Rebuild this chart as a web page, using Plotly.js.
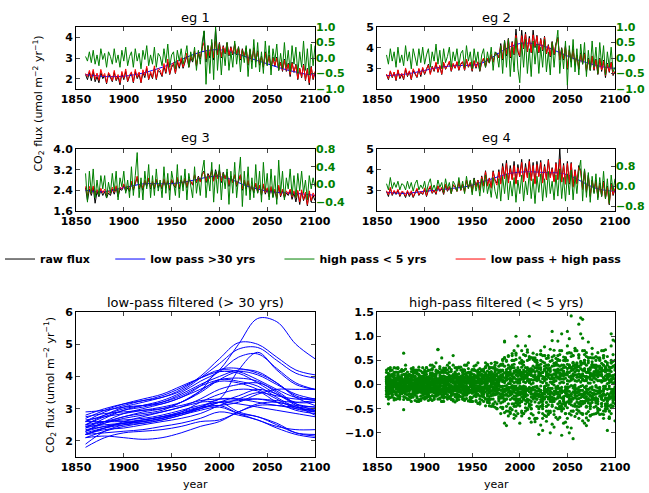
<!DOCTYPE html>
<html>
<head>
<meta charset="utf-8">
<script src="https://cdn.plot.ly/plotly-3.0.1.min.js"></script>
<style>
  html, body { margin: 0; padding: 0; background: #fff; }
  #chart { width: 649px; height: 493px; }
</style>
</head>
<body>
<div id="chart"></div>
<script>
// annual series are sampled every 2 years, the smooth ones every 10
var years = [];
for (var yr = 1860; yr <= 2100; yr += 2) years.push(yr);
var lowYears = [];
for (var yr2 = 1860; yr2 <= 2100; yr2 += 10) lowYears.push(yr2);
var curveYears = [1860,1880,1900,1920,1940,1960,1980,2000,2020,2040,2060,2080,2100];
var yearTicks = [1850,1900,1950,2000,2050,2100];

// ---- eg 1 ----
var eg1Raw = [
 2.2,1.95,2.3,1.9,2.35,1.85,2.1,1.8,2.3,2.0,
 2.15,1.75,2.25,2.05,1.85,2.3,1.9,2.1,1.7,2.25,
 1.95,2.35,1.85,2.1,2.25,1.8,2.35,2.0,2.2,1.8,
 2.3,2.05,2.5,1.95,2.25,2.0,2.5,1.95,2.4,2.3,
 2.1,2.6,2.25,2.8,2.2,2.55,2.7,2.25,2.8,2.5,
 2.9,2.5,2.75,3.1,2.55,3.0,2.8,3.25,2.6,3.2,
 2.95,3.45,4.3,2.8,3.6,3.0,3.75,2.9,4.4,3.2,
 3.75,3.0,3.6,3.2,3.75,3.1,3.55,3.15,3.7,3.15,
 3.55,2.9,3.45,3.05,3.5,2.65,3.4,2.8,3.5,2.8,
 3.35,2.65,3.1,2.55,3.3,2.65,3.15,2.45,3.05,2.6,
 3.05,2.4,2.8,2.35,2.95,2.35,2.75,2.1,2.8,2.3,
 2.7,1.95,2.5,2.05,2.7,1.9,2.5,1.7,2.6,1.95,
 2.3];
var eg1Low = [2.2,2.15,2.1,2.1,2.12,2.18,2.27,2.4,2.55,2.72,2.92,3.12,3.28,3.38,3.4,3.32,3.18,3.02,2.87,2.72,2.57,2.43,2.32,2.22,2.17];
var eg1High = [
 .05,-.1,.2,-.15,.25,-.2,.1,-.25,.3,-.05,
 .15,-.3,.2,.05,-.2,.3,-.15,.1,-.3,.25,
 -.1,.35,-.25,.05,.2,-.3,.3,-.1,.15,-.35,
 .25,-.05,.4,-.25,.1,-.2,.35,-.3,.15,.05,
 -.25,.3,-.15,.45,-.3,.1,.2,-.35,.25,-.1,
 .3,-.2,.05,.4,-.3,.2,-.1,.35,-.4,.25,
 -.2,.5,.88,-.85,.4,-.5,.6,-.7,1.0,-.4,
 .45,-.55,.3,-.25,.5,-.4,.2,-.3,.55,-.2,
 .35,-.45,.25,-.15,.4,-.6,.3,-.35,.6,-.3,
 .5,-.45,.2,-.5,.55,-.25,.4,-.55,.3,-.1,
 .45,-.4,.15,-.35,.5,-.3,.25,-.45,.4,-.2,
 .35,-.5,.2,-.3,.55,-.4,.3,-.55,.45,-.25,
 .4];
var eg1Sum = [
 2.25,2.1,2.4,2.05,2.45,1.97,2.27,1.92,2.45,2.1,
 2.25,1.8,2.3,2.15,1.9,2.4,1.95,2.2,1.8,2.35,
 2.02,2.47,1.88,2.18,2.33,1.84,2.45,2.06,2.32,1.82,
 2.43,2.15,2.6,1.97,2.34,2.06,2.62,2.0,2.5,2.42,
 2.15,2.73,2.31,2.95,2.23,2.65,2.78,2.27,2.9,2.59,
 3.02,2.56,2.85,3.24,2.58,3.12,2.86,3.35,2.64,3.33,
 3.0,3.5,3.75,2.95,3.55,3.1,3.7,3.0,3.8,3.15,
 3.7,3.05,3.55,3.25,3.7,3.15,3.5,3.2,3.65,3.2,
 3.5,2.95,3.4,3.1,3.45,2.7,3.35,2.85,3.45,2.85,
 3.3,2.7,3.05,2.6,3.25,2.7,3.1,2.5,3.0,2.65,
 3.0,2.45,2.78,2.4,2.9,2.4,2.7,2.2,2.75,2.35,
 2.65,2.0,2.5,2.1,2.65,1.95,2.45,1.8,2.55,2.0,
 2.35];

// ---- eg 2 ----
var eg2Raw = [
 2.7,2.45,2.85,2.55,2.8,2.4,2.9,2.5,2.7,2.45,
 2.95,2.6,2.85,2.45,2.9,2.75,2.55,2.95,2.6,3.0,
 2.7,2.95,3.2,2.75,3.1,2.85,3.25,2.8,3.1,2.7,
 3.25,2.95,3.1,3.3,2.85,3.2,3.0,3.3,2.9,3.2,
 3.3,2.9,3.4,3.05,3.25,2.85,3.35,3.0,3.3,2.85,
 3.3,3.45,3.05,3.45,3.25,3.65,3.3,3.7,3.75,3.5,
 4.2,3.4,4.35,3.6,4.45,3.5,4.3,3.65,4.9,3.8,
 3.55,4.85,3.95,4.75,3.8,4.55,3.75,4.85,4.0,4.6,
 3.75,4.45,3.85,4.55,3.7,4.15,3.55,4.3,3.65,4.2,
 4.5,3.4,4.0,3.4,4.1,2.95,3.9,3.3,3.95,3.15,
 3.65,2.95,3.75,3.2,3.75,2.85,3.5,2.9,3.6,2.9,
 3.45,2.7,3.5,2.85,3.4,2.55,3.25,2.8,3.3,2.65,
 2.85];
var eg2Low = [2.65,2.68,2.72,2.8,2.9,3.0,3.08,3.12,3.14,3.15,3.25,3.5,3.8,4.05,4.2,4.22,4.15,4.0,3.8,3.6,3.42,3.28,3.15,3.05,3.0];
var eg2High = [
 .1,-.2,.3,-.1,.2,-.3,.35,-.15,.1,-.25,
 .4,-.1,.2,-.35,.3,.05,-.25,.3,-.15,.35,
 -.2,.1,.3,-.3,.2,-.1,.45,-.2,.25,-.35,
 .3,-.15,.05,.35,-.3,.2,-.1,.3,-.25,.15,
 .25,-.3,.4,-.1,.2,-.35,.3,-.15,.2,-.4,
 .1,.3,-.3,.2,-.15,.35,-.4,.2,.1,-.3,
 .4,-.5,.55,-.3,.6,-.6,.35,-.45,.65,-.35,
 -.8,.5,-.3,.6,-.5,.3,-.6,.55,-.2,.45,
 -.5,.35,-.3,.6,-.45,.2,-.55,.5,-.3,.4,
 .9,-.5,.3,-.35,.55,-.88,.4,-.3,.6,-.45,
 .3,-.55,.45,-.2,.5,-.6,.25,-.4,.55,-.3,
 .35,-.5,.5,-.25,.4,-.55,.2,-.3,.35,-.45,
 -.3];
var eg2Sum = [
 2.72,2.5,2.88,2.58,2.82,2.44,2.93,2.56,2.76,2.5,
 3.02,2.65,2.88,2.48,2.98,2.78,2.58,3.0,2.68,3.05,
 2.75,2.98,3.15,2.7,3.08,2.9,3.3,2.82,3.15,2.72,
 3.3,2.98,3.12,3.35,2.88,3.25,3.02,3.33,2.93,3.23,
 3.33,2.92,3.45,3.08,3.3,2.9,3.38,3.06,3.32,2.9,
 3.32,3.5,3.1,3.5,3.27,3.68,3.3,3.72,3.68,3.52,
 4.1,3.45,4.25,3.68,4.4,3.55,4.25,3.7,4.6,3.85,
 3.6,4.58,3.98,4.65,3.82,4.45,3.77,4.62,4.07,4.55,
 3.78,4.4,3.9,4.5,3.72,4.1,3.6,4.25,3.7,4.15,
 4.45,3.42,3.95,3.45,4.05,3.0,3.85,3.35,3.9,3.2,
 3.62,3.0,3.7,3.24,3.7,2.9,3.45,2.95,3.6,2.95,
 3.4,2.75,3.45,2.92,3.35,2.65,3.2,2.85,3.28,2.7,
 2.85];

// ---- eg 3 ----
var eg3Raw = [
 2.5,2.0,2.45,2.2,2.5,1.9,2.35,2.15,2.4,2.2,
 2.35,2.1,2.3,2.2,2.45,2.25,2.5,2.15,2.45,2.4,
 2.6,2.35,2.5,2.35,2.7,2.4,2.65,2.9,2.45,2.65,
 2.4,2.75,2.55,2.85,2.45,2.7,2.45,2.8,2.5,2.65,
 2.45,2.8,2.5,2.75,2.4,2.8,2.6,2.5,2.85,2.45,
 2.8,2.55,2.85,2.5,2.8,2.75,2.6,3.0,2.7,2.95,
 2.75,3.05,3.15,2.7,3.05,2.9,3.2,2.8,3.2,2.9,
 3.2,2.7,3.1,2.85,3.1,2.55,2.95,2.7,3.0,2.55,
 2.75,3.0,2.4,2.75,2.45,2.75,2.35,2.55,2.3,2.65,
 2.3,2.6,2.2,2.6,2.25,2.45,2.15,2.5,2.15,2.4,
 2.05,2.55,2.15,2.4,2.1,2.3,2.2,2.4,2.05,2.3,
 1.95,2.35,1.85,2.35,2.0,2.25,1.8,2.3,1.95,2.2,
 2.0];
var eg3Low = [2.4,2.36,2.35,2.42,2.5,2.58,2.65,2.66,2.65,2.66,2.7,2.77,2.85,2.93,2.93,2.85,2.7,2.55,2.45,2.37,2.32,2.3,2.28,2.25,2.2];
var eg3High = [
 .25,-.4,.3,-.2,.35,-.3,.1,-.25,.2,-.1,
 .2,-.3,.05,-.2,.25,-.15,.3,-.35,.15,-.05,
 .3,-.2,.1,-.3,.4,-.25,.2,.72,-.3,.15,
 -.35,.3,-.1,.45,-.3,.2,-.25,.35,-.15,.1,
 -.3,.4,-.2,.25,-.35,.3,.05,-.25,.45,-.3,
 .2,-.15,.35,-.35,.25,0,-.3,.4,-.2,.15,
 -.25,.3,.55,-.3,.2,-.15,.5,-.4,.3,-.2,
 .45,-.35,.25,-.1,.35,-.45,.3,-.2,.5,-.3,
 .2,.62,-.5,.3,-.25,.4,-.35,.15,-.3,.45,
 -.2,.3,-.4,.5,-.15,.25,-.35,.35,-.3,.2,
 -.45,.55,-.2,.3,-.35,.15,-.1,.35,-.25,.2,
 -.3,.25,-.15,.3,-.2,.1,-.35,.2,-.1,.15,
 -.05];
var eg3Sum = [
 2.55,2.2,2.55,2.28,2.57,2.22,2.43,2.25,2.48,2.3,
 2.45,2.2,2.38,2.28,2.52,2.33,2.58,2.25,2.52,2.45,
 2.65,2.42,2.57,2.42,2.75,2.45,2.7,2.95,2.5,2.72,
 2.48,2.8,2.6,2.88,2.5,2.75,2.52,2.83,2.57,2.7,
 2.5,2.85,2.55,2.78,2.48,2.82,2.67,2.55,2.9,2.52,
 2.8,2.62,2.87,2.55,2.85,2.74,2.62,3.0,2.72,2.9,
 2.72,3.0,3.1,2.75,3.0,2.85,3.15,2.75,3.08,2.85,
 3.15,2.75,3.05,2.85,3.05,2.62,2.95,2.7,3.0,2.6,
 2.78,3.0,2.45,2.8,2.5,2.78,2.4,2.6,2.38,2.68,
 2.35,2.6,2.25,2.65,2.32,2.5,2.2,2.55,2.22,2.45,
 2.1,2.6,2.2,2.45,2.15,2.38,2.25,2.45,2.15,2.38,
 2.1,2.4,1.95,2.42,2.05,2.33,1.85,2.38,2.0,2.3,
 2.15];

// ---- eg 4 ----
var eg4Raw = [
 2.95,2.7,3.1,2.75,2.95,2.8,3.0,2.7,2.9,2.85,
 2.65,2.95,2.7,2.9,2.65,2.9,3.05,2.75,2.9,2.8,
 3.05,2.7,3.0,3.15,2.85,3.0,2.8,3.2,2.95,3.1,
 2.8,3.25,2.95,3.15,2.85,3.25,3.15,2.95,3.4,3.0,
 3.3,2.95,3.5,3.1,3.45,2.95,3.6,3.2,3.5,3.05,
 3.7,3.25,3.95,3.25,3.6,3.15,3.95,3.5,3.35,4.0,
 3.35,4.3,3.6,4.45,3.4,4.2,3.55,4.4,3.35,4.25,
 3.7,4.5,3.45,4.3,3.65,4.5,3.5,4.35,3.35,4.4,
 3.7,4.45,3.4,4.25,3.55,4.5,3.65,4.1,3.45,4.35,
 3.55,5.0,3.4,4.3,3.3,4.4,3.3,4.35,3.2,4.0,
 3.35,4.2,3.95,3.05,4.0,2.9,3.75,2.7,3.5,2.9,
 3.5,2.65,3.35,2.7,3.45,2.6,3.2,2.3,3.35,2.75,
 3.05];
var eg4Low = [2.9,2.87,2.85,2.9,2.95,3.0,3.05,3.1,3.15,3.25,3.4,3.55,3.7,3.82,3.88,3.9,3.88,3.85,3.85,3.75,3.55,3.3,3.1,3.0,2.95];
var eg4High = [
 .1,-.15,.35,-.1,.15,-.05,.2,-.15,.1,.05,
 -.15,.2,-.1,.15,-.2,.1,.25,-.15,.05,-.1,
 .2,-.25,.1,.3,-.15,.05,-.2,.25,-.05,.15,
 -.25,.3,-.1,.15,-.3,.2,.05,-.2,.35,-.15,
 .2,-.3,.4,-.1,.25,-.35,.3,-.2,.15,-.4,
 .3,-.25,.45,-.3,.1,-.45,.35,-.2,-.5,.3,
 -.6,.4,-.3,.5,-.55,.2,-.4,.35,-.65,.25,
 -.3,.45,-.6,.2,-.35,.55,-.5,.3,-.7,.4,
 -.25,.5,-.6,.3,-.45,.6,-.3,.2,-.55,.45,
 -.4,.7,-.5,.35,-.6,.5,-.35,.65,-.55,.4,
 -.3,.6,1.05,-.6,.7,-.45,.55,-.65,.4,-.3,
 .5,-.55,.35,-.4,.6,-.5,.3,-.7,.45,-.2,
 .3];
var eg4Sum = [
 2.98,2.78,3.15,2.8,3.0,2.85,3.05,2.75,2.95,2.92,
 2.72,3.0,2.78,2.98,2.7,2.95,3.1,2.78,2.95,2.82,
 3.12,2.75,3.05,3.22,2.88,3.02,2.85,3.23,2.98,3.15,
 2.85,3.3,3.0,3.2,2.85,3.28,3.17,2.95,3.45,3.0,
 3.3,2.9,3.5,3.12,3.42,2.9,3.55,3.15,3.48,3.0,
 3.65,3.2,3.9,3.2,3.58,3.1,3.9,3.45,3.25,3.9,
 3.3,4.15,3.55,4.3,3.35,4.05,3.5,4.2,3.3,4.1,
 3.65,4.35,3.4,4.1,3.6,4.4,3.45,4.2,3.3,4.25,
 3.65,4.35,3.35,4.15,3.5,4.45,3.6,4.05,3.4,4.3,
 3.5,4.5,3.4,4.2,3.3,4.3,3.35,4.3,3.15,3.95,
 3.3,4.1,3.9,3.05,3.95,2.95,3.7,2.75,3.45,2.95,
 3.45,2.7,3.3,2.75,3.4,2.65,3.15,2.35,3.3,2.8,
 3.1];

// ---- ensemble of low-pass curves (values at curveYears) ----
var ensembleLow = [
 [2.3,2.6,2.85,3.0,3.15,3.35,3.7,4.2,5.0,5.8,5.7,5.0,4.55],
 [2.6,2.9,3.1,3.25,3.35,3.6,4.0,4.55,5.05,5.0,4.6,4.2,4.05],
 [2.5,2.8,3.05,3.2,3.35,3.55,3.95,4.4,4.85,4.9,4.5,4.1,3.95],
 [2.2,2.4,2.6,2.75,2.9,3.05,3.2,3.3,4.2,4.75,4.2,3.75,3.6],
 [2.4,2.7,2.95,3.1,3.25,3.5,3.85,4.15,4.6,4.7,4.25,3.8,3.6],
 [2.8,3.0,3.15,3.25,3.4,3.65,3.95,4.2,4.15,3.9,3.6,3.35,3.3],
 [2.7,2.95,3.15,3.3,3.45,3.7,3.95,4.15,4.1,3.8,3.45,3.2,3.2],
 [2.5,2.75,2.95,3.05,3.2,3.45,3.75,4.0,4.2,4.15,3.8,3.4,3.25],
 [2.6,2.8,3.0,3.1,3.2,3.4,3.7,3.9,3.95,3.85,3.5,3.15,3.05],
 [2.3,2.55,2.75,2.85,2.95,3.2,3.55,3.9,3.85,3.7,3.35,3.05,2.95],
 [2.9,2.95,3.05,3.1,3.15,3.35,3.6,3.85,3.8,3.6,3.3,3.0,2.9],
 [2.4,2.55,2.7,2.8,2.9,3.05,3.3,3.6,3.75,3.8,3.55,3.15,2.95],
 [2.2,2.4,2.55,2.65,2.75,2.9,3.2,3.45,3.6,3.55,3.2,2.95,2.85],
 [2.1,2.3,2.45,2.55,2.65,2.8,3.0,3.2,3.4,3.6,3.45,3.1,2.8],
 [2.5,2.6,2.65,2.7,2.8,2.95,3.1,3.2,3.15,3.05,2.95,2.85,2.75],
 [2.3,2.45,2.55,2.6,2.7,2.85,3.05,3.3,3.3,3.2,3.1,3.05,3.0],
 [1.9,2.3,2.5,2.6,2.7,2.85,3.0,3.2,3.25,3.3,3.25,3.2,3.25],
 [2.2,2.35,2.4,2.5,2.6,2.7,2.85,3.1,3.3,3.5,3.4,3.3,3.3],
 [2.6,2.6,2.6,2.65,2.75,2.85,3.0,3.1,2.85,2.65,2.45,2.35,2.35],
 [2.45,2.5,2.55,2.6,2.7,2.85,3.05,3.2,2.9,2.75,2.55,2.25,2.15],
 [2.2,2.25,2.3,2.35,2.45,2.55,2.7,2.9,2.8,2.65,2.4,2.2,2.1],
 [2.1,2.15,2.1,2.05,2.1,2.25,2.45,2.6,2.9,3.1,3.1,3.0,2.95],
 [1.8,2.1,2.25,2.3,2.35,2.45,2.6,2.65,2.9,3.15,3.2,3.05,2.9],
 [2.75,2.85,2.9,2.95,3.0,3.1,3.25,3.3,3.3,3.3,3.2,3.1,3.05],
 [2.35,2.45,2.55,2.65,2.75,2.9,3.05,3.1,3.2,3.45,3.6,3.6,3.6],
 [2.25,2.4,2.5,2.55,2.65,2.8,2.95,3.05,2.85,2.75,2.5,2.25,2.2],
 [2.65,2.75,2.85,2.95,3.05,3.2,3.5,3.9,4.15,4.05,3.75,3.45,3.3],
 [2.45,2.6,2.75,2.9,3.0,3.2,3.55,4.2,4.25,4.1,3.8,3.35,3.1]
];

// ---- further high-pass members, in hundredths ----
var hpA = [12,-25,8,30,-15,-4,22,-30,5,65, -20,10,-8,27,-12,3,-28,15,9,-18, 25,-6,-22,14,31,-17,4,-9,20,-26, 7,16,-21,35,-3,-14,24,-33,11,2, -19,28,6,-11,17,-27,38,-8,13,-24, 21,-35,9,42,-18,5,-41,30,-12,26, -47,18,55,-22,-8,36,-52,14,61,-30, 24,-58,40,-15,67,-44,10,-63,35,-20, -103,-31,-70,45,18,-55,73,-26,8,-48, 60,-38,22,-80,49,-14,95,142,31,-66, 43,-21,-59,70,-35,12,-74,56,-29,38, -45,66,-18,27,-62,48,-10,-55,80,-33, 20];
var hpB = [-8,20,-27,4,15,-19,33,-11,-2,-52, 16,-30,21,-6,-17,29,-9,12,-24,6, -14,35,-3,-25,18,-10,27,-20,9,14, -28,11,23,-16,5,-34,19,8,-13,30, 10,-22,-5,33,-26,15,-7,28,-39,19, -15,27,-44,16,33,-23,8,-36,45,-9, 30,-25,-12,48,-40,22,-5,50,-33,-60, -15,44,-27,80,-36,5,-50,28,-72,46, -20,63,-41,12,-66,55,-19,38,-88,26, 15,-45,70,-28,-60,42,-100,34,60,-18, -52,29,138,-40,17,-69,45,-22,63,-47, 28,-35,55,-61,14,36,-50,22,-28,92, -40];
var hpC = [30,-12,17,-22,2,26,-29,9,-16,21, -5,14,-31,19,25,-8,-18,36,-4,-22, 11,-18,29,-7,-23,21,-14,73,-28,5, 18,-26,4,-9,27,-20,-2,17,-31,12, -6,22,-29,14,5,-18,31,-25,24,-3, -32,15,24,-37,20,-13,34,-47,22,9, -28,52,-34,19,-65,31,-15,42,-45,80, -38,22,-60,35,-10,58,-42,17,-77,50, 33,-12,47,-64,26,-30,-100,-45,-20,54, -72,38,-16,57,-40,110,-25,-63,44,-8, 36,-55,20,135,62,-85,28,-15,47,-61, 19,-40,52,-25,-70,33,58,-44,12,-24, 35];
var hpD = [-20,5,28,-13,19,-6,-24,14,31,-17, 9,-21,4,33,-26,17,-1,-15,28,-9, -30,8,16,-12,3,37,-24,10,-17,29, 2,-19,30,-6,-23,60,-36,21,7,-15, 26,-9,13,-34,21,-2,-16,40,-21,11, 18,-7,-29,28,-44,25,12,-21,-7,38, -20,43,-58,27,-10,-48,64,-24,-38,29, 55,-20,11,-48,72,-32,25,-9,48,-70, 18,-84,-95,-7,54,-42,-15,91,-35,27, -50,20,40,-33,-78,65,-30,13,-55,75, -24,125,-40,96,-18,-47,32,-64,18,55, -35,18,-52,70,-22,-8,45,-67,35,-15, 50];
var hpE = [15,-30,9,-3,23,-21,11,27,-19,-7, 32,-14,-25,8,19,-33,22,-4,13,-28, 4,21,-11,40,-33,12,-6,-22,33,55, -17,34,-10,26,-30,6,15,-23,-5,36, -30,12,24,-18,-5,31,-23,7,18,-37, 11,32,-15,-23,36,-30,5,26,-50,16, 42,-36,24,-55,34,12,-28,70,-18,-42, 30,-65,47,-22,-30,52,-78,38,14,-45, -58,42,-25,78,-10,-62,34,110,71,-16, 32,-68,-105,12,-44,80,-22,-90,38,-5, 70,-38,15,-62,44,-25,88,-50,-10,36, -60,24,38,-45,60,-28,15,-70,50,-12, -25];
var hpF = [-25,16,-4,21,-32,8,18,-14,27,-5, -12,26,-19,-2,35,-22,10,-31,17,24, -26,15,-33,6,24,-3,-19,28,-12,-21, 34,-8,-27,19,9,-31,26,-4,-22,17, 14,-33,19,3,-27,22,-12,-20,30,-8, -24,18,37,-12,-33,44,-18,9,30,-28, 12,-47,38,-12,58,-31,20,-62,26,-8, -44,36,-12,60,-52,21,-35,65,-25,15, 40,-22,-45,60,-37,20,-58,12,44,-68, 25,50,105,28,-12,-48,66,-35,-112,-40, -15,62,-44,30,-80,25,55,-32,-62,40, 58,-30,-15,44,-55,72,-40,30,-48,62, 90];
var hpG = [8,23,-18,-26,12,34,-9,-20,6,29, -27,7,18,-23,3,24,-35,20,-8,11, 19,-28,6,23,-15,-30,13,-5,37,-16, -8,25,-30,11,-19,40,-12,-27,22,-2, 31,-17,-8,24,-31,9,16,-33,6,25, -5,-26,20,14,-38,27,-22,46,-14,-34, 27,-15,90,31,18,-57,40,-30,52,-22, -32,70,-16,-55,30,100,56,-26,-18,62, -38,24,60,-30,-76,40,-14,57,-62,30, -28,62,-45,18,52,-70,36,-20,-44,70, 30,-70,48,-12,-38,66,-56,20,42,-30, -20,55,-62,18,40,-50,-95,-8,-60,38, -75];
var hpH = [-15,33,-7,17,-28,3,25,-16,13,-31, 22,-5,12,-27,30,-19,6,21,-33,15, -7,27,-19,1,33,-24,22,-30,8,25, -21,6,15,-28,31,-11,-20,10,36,-25, -12,30,-22,5,26,-35,20,-14,-20,33, 28,-18,6,-30,24,12,-45,20,31,-25, -38,28,-80,-45,25,-22,50,-10,-55,35, 20,-35,62,-40,18,-70,28,52,-36,12, -46,70,-20,32,-55,15,48,-82,30,-8, 52,-26,-55,40,22,-36,-60,58,-15,35, -60,22,40,-75,30,58,-20,-45,75,-20, 40,-58,20,-30,70,-22,-45,30,105,48, -30];
var hpI = [3,-8,12,0,-5,9,-14,6,-2,10, -11,4,7,-3,15,-9,1,-6,11,-13, 8,-2,-10,5,13,-7,2,-15,9,4, -6,11,-1,-12,7,3,-9,14,-4,6, 10,-5,2,-13,8,-1,12,-7,-3,9, -14,6,11,-2,-8,16,-5,3,-12,7, 18,-10,4,-20,12,-6,22,-15,5,-9, -17,25,-8,13,-22,6,19,-28,10,-4, 24,-12,-30,15,3,-19,27,-8,-21,16, -26,11,32,-14,-5,20,-33,9,17,-11, 7,-29,19,-2,28,-18,-10,31,-24,5, -13,22,-6,-27,14,30,-19,4,-25,12, -8];
var hpJ = [-4,9,-1,-11,6,2,13,-7,-3,8, 5,-12,10,1,-7,-4,12,-10,3,-1, -9,14,-5,3,-2,-12,8,6,-14,11, 12,-3,-8,9,-15,5,1,-10,13,-6, -2,7,-12,11,4,-9,-5,15,-11,2, 9,-16,3,8,-10,-3,14,-13,6,-1, -12,16,-22,9,2,-18,11,-3,20,-14, 8,-16,21,-5,-12,27,-20,3,15,-30, -9,31,-18,-4,22,-26,12,-35,6,19, 13,-21,5,26,-38,8,-14,29,-3,-22, 20,-6,-27,12,33,-9,-17,24,-31,14, -5,29,-15,8,-33,18,2,-21,27,-10, 12];
var hpK = [7,-1,-9,4,-13,11,0,-5,8,-10, -3,13,-6,-9,2,10,-14,5,-1,9, 14,-4,3,-9,-1,8,-11,2,-6,13, -10,0,9,-4,12,-13,6,-2,-8,5, 4,-11,8,-6,-1,13,-9,3,10,-14, -7,12,-2,-11,19,-5,-9,11,-17,4, 9,-4,-15,23,-11,7,-19,4,-8,17, -21,11,-3,-18,24,-9,1,-25,20,-7, 10,-25,17,-12,-2,33,-15,5,-28,21, -8,24,-17,-30,13,1,35,-19,-7,26, -17,9,33,-22,-6,17,-38,11,22,-12, 25,-18,-9,21,-4,-30,12,36,-16,3, -18];
var hpL = [-12,3,5,-7,10,-3,-11,16,-8,1, 7,-2,-13,12,-5,6,-8,-2,14,-6, 2,-13,9,12,-8,1,-17,11,-4,-9, 5,15,-7,-2,-11,8,13,-6,1,-12, -9,3,14,-7,-12,6,2,-10,15,-4, 13,-9,-6,15,-3,-14,8,-1,10,-18, -5,21,-10,-2,-16,13,-8,24,-11,3, 12,-5,-24,17,-9,-15,33,-11,-28,8, -22,6,12,-20,34,-7,-26,18,-1,-13, 29,-14,-6,21,-23,-9,16,-2,31,-27, -9,37,-12,-25,8,-34,15,3,-18,27, 11,-7,32,-14,-19,9,-28,17,6,-29, 20];
var hpM = [1,14,-6,9,-3,-15,4,11,-10,5, -9,8,2,-5,-10,15,-3,9,-16,1, -4,6,-15,-2,10,-6,15,-8,3,-11, 9,-12,6,14,-2,-7,-4,12,-15,4, -5,16,-3,-8,9,-6,-14,4,-9,12, 2,-5,17,-19,7,3,-12,16,-4,-11, 14,-20,7,11,-24,2,17,-12,-3,23, -9,17,-30,4,21,-6,-13,18,-5,29, 26,-16,4,-27,11,22,-8,-18,39,-5, -16,3,-28,11,36,-20,7,-42,12,-1, 30,-15,-4,44,-27,8,-29,-7,36,-19, -27,8,-13,34,-9,-42,21,-3,18,-37, 6];
var hpN = [10,-6,2,-16,7,13,-2,-9,3,-4, 13,-7,-1,11,-14,-5,8,2,-11,17, -12,2,11,-6,-14,17,-3,6,11,-2, -3,9,-14,1,17,-5,-12,4,9,-16, 15,-6,-10,16,3,-16,10,-2,-7,5, -10,20,-8,3,13,-21,1,-6,18,-3, -26,6,14,-8,19,-13,-2,28,-24,10, 3,-26,15,-10,8,32,-18,-6,26,-14, 18,-3,-20,38,-14,-1,20,-31,13,8, -3,-35,19,4,-17,33,-5,-24,22,-15, -36,16,-20,9,45,-14,3,-40,10,24, -2,38,-24,5,-13,26,-33,9,-42,19, -10];
var hpO = [-7,12,-13,3,2,-9,17,-1,-12,7, -1,-10,6,15,-3,-12,4,-13,6,-8, 10,-9,1,-16,6,9,-6,-12,-1,17, -14,3,10,-9,-6,16,-1,-14,4,9, -1,-14,5,8,-16,1,12,-17,3,-11, 5,-12,1,13,-25,8,17,-9,2,14, -4,10,-30,16,-6,-20,7,15,-29,6, 27,-10,6,-33,13,4,-26,9,-21,35, -13,19,-35,8,26,-12,5,-42,22,-18, 40,-8,12,-25,-10,27,-39,18,-28,8, 15,-46,5,22,-16,40,-33,16,-5,-28, 33,-14,8,-39,29,-3,40,-26,9,-21, 2];
var hpP = [16,-3,7,-8,11,-17,-6,3,15,-13, 2,17,-11,-8,9,1,-15,8,4,-3, -15,11,-7,19,-10,3,7,-4,-19,6, 7,-17,2,7,-13,11,-8,18,-11,-1, 7,-2,-16,10,13,-12,-1,18,-13,-6, -19,3,10,-7,-16,11,22,-14,-3,10, 20,-28,-3,14,-9,26,-15,-7,11,-19, -4,16,-20,27,-33,10,-8,30,-12,-23, 14,-36,25,-9,-16,30,-24,2,-14,44, -20,16,-12,-40,20,-6,25,-31,46,-19, 40,-12,-35,18,-21,-3,49,-24,-37,15, -38,16,26,-22,8,-44,14,30,-18,2, -15];

var BLACK = '#000000', BLUE = '#0000ff', GREEN = '#008000', RED = '#ff0000';
var FONT = 'DejaVu Sans';
var NB = '\u00a0';
var tickFont = { family: FONT, size: 11, color: BLACK, weight: 'bold' };
var greenFont = { family: FONT, size: 11, color: GREEN, weight: 'bold' };

var colL = [0.1171, 0.4854], colR = [0.5809, 0.9476];
var row1 = [0.8195, 0.9452], row2 = [0.572, 0.6978], row3 = [0.073, 0.3671];

var traces = [];
function panel(n, raw, low, sum, high, right) {
  var xa = n === 1 ? 'x' : 'x' + n;
  var ya = n === 1 ? 'y' : 'y' + n;
  var leg = n === 1;
  traces.push({ x: years, y: raw, xaxis: xa, yaxis: ya, type: 'scatter', mode: 'lines',
    line: { color: BLACK, width: 1 }, name: 'raw flux' + NB.repeat(4), showlegend: leg, legendrank: 1 });
  traces.push({ x: lowYears, y: low, xaxis: xa, yaxis: ya, type: 'scatter', mode: 'lines',
    line: { color: BLUE, width: 1, shape: 'spline' }, name: 'low pass >30 yrs' + NB.repeat(5), showlegend: leg, legendrank: 2 });
  traces.push({ x: years, y: sum, xaxis: xa, yaxis: ya, type: 'scatter', mode: 'lines',
    line: { color: RED, width: 1 }, name: 'low pass + high pass', showlegend: leg, legendrank: 4 });
  traces.push({ x: years, y: high, xaxis: xa, yaxis: right, type: 'scatter', mode: 'lines',
    line: { color: GREEN, width: 1 }, name: 'high pass < 5 yrs' + NB.repeat(5), showlegend: leg, legendrank: 3 });
}
panel(1, eg1Raw, eg1Low, eg1Sum, eg1High, 'y5');
panel(2, eg2Raw, eg2Low, eg2Sum, eg2High, 'y6');
panel(3, eg3Raw, eg3Low, eg3Sum, eg3High, 'y7');
panel(4, eg4Raw, eg4Low, eg4Sum, eg4High, 'y8');

ensembleLow.forEach(function (c) {
  traces.push({ x: curveYears, y: c, xaxis: 'x5', yaxis: 'y9', type: 'scatter', mode: 'lines',
    line: { color: BLUE, width: 1, shape: 'spline' }, showlegend: false });
});

var hx = [], hy = [];
[eg1High, eg2High, eg3High, eg4High].forEach(function (s) {
  s.forEach(function (v, i) { hx.push(years[i]); hy.push(v); });
});
[hpA, hpB, hpC, hpD, hpE, hpF, hpG, hpH, hpI, hpJ, hpK, hpL, hpM, hpN, hpO, hpP].forEach(function (s) {
  s.forEach(function (v, i) { hx.push(years[i]); hy.push(v / 100); });
});
traces.push({ x: hx, y: hy, xaxis: 'x6', yaxis: 'y10', type: 'scatter', mode: 'markers',
  marker: { color: GREEN, size: 3.2 }, showlegend: false });

function xAx(dom, anchor) {
  return { domain: dom, anchor: anchor, range: [1850, 2100.01], tickvals: yearTicks,
    ticks: 'inside', ticklen: 4, showline: true, mirror: 'ticks', linecolor: BLACK, linewidth: 1,
    showgrid: false, zeroline: false, tickfont: tickFont };
}
function yAx(dom, anchor, range, vals, fmt, mirror) {
  return { domain: dom, anchor: anchor, range: range, tickvals: vals, tickformat: fmt,
    ticks: 'inside', ticklen: 4, showline: true, mirror: mirror, linecolor: BLACK, linewidth: 1,
    showgrid: false, zeroline: false, tickfont: tickFont };
}
function rAx(over, range, vals, fmt) {
  return { overlaying: over, anchor: over === 'y' ? 'x' : 'x' + over.slice(1), side: 'right',
    range: range, tickvals: vals, tickformat: fmt, ticks: 'inside', ticklen: 4,
    showline: false, showgrid: false, zeroline: false, tickfont: greenFont };
}

var yTitle = 'CO<sub>2</sub> flux (umol m<sup>−2</sup> yr<sup>−1</sup>)';
function note(text, x, y, size, angle) {
  return { text: text, x: x, y: y, xref: 'paper', yref: 'paper', showarrow: false,
    xanchor: 'center', yanchor: 'middle', textangle: angle || 0,
    font: { family: FONT, size: size, color: BLACK } };
}

var layout = {
  width: 649, height: 493,
  margin: { l: 0, r: 0, t: 0, b: 0, pad: 0 },
  paper_bgcolor: '#fff', plot_bgcolor: '#fff',
  font: { family: FONT, size: 11, color: BLACK },
  showlegend: true,
  legend: { orientation: 'h', x: 0, y: 0.4746, xanchor: 'left', yanchor: 'middle',
    font: { family: FONT, size: 11, color: BLACK, weight: 'bold' }, bgcolor: 'rgba(0,0,0,0)' },
  xaxis: xAx(colL, 'y'), xaxis2: xAx(colR, 'y2'), xaxis3: xAx(colL, 'y3'), xaxis4: xAx(colR, 'y4'),
  xaxis5: xAx(colL, 'y9'), xaxis6: xAx(colR, 'y10'),
  yaxis: yAx(row1, 'x', [1.5, 4.5], [2, 3, 4], 'd', true),
  yaxis2: yAx(row1, 'x2', [2, 5.001], [3, 4, 5], 'd', true),
  yaxis3: yAx(row2, 'x3', [1.599, 4.001], [1.6, 2.4, 3.2, 4.0], '.1f', true),
  yaxis4: yAx(row2, 'x4', [2, 5.001], [3, 4, 5], 'd', true),
  yaxis5: rAx('y', [-1.001, 1.001], [-1, -0.5, 0, 0.5, 1], '.1f'),
  yaxis6: rAx('y2', [-1.001, 1.001], [-1, -0.5, 0, 0.5, 1], '.1f'),
  yaxis7: rAx('y3', [-0.6, 0.801], [-0.4, 0, 0.4, 0.8], '.1f'),
  yaxis8: rAx('y4', [-1, 1.5], [-0.8, 0, 0.8], '.1f'),
  yaxis9: yAx(row3, 'x5', [1.5, 6.001], [2, 3, 4, 5, 6], 'd', 'ticks'),
  yaxis10: yAx(row3, 'x6', [-1.5, 1.501], [-1, -0.5, 0, 0.5, 1, 1.5], '.1f', 'ticks'),
  annotations: [
    note('eg 1', 0.3013, 0.9655, 13), note('eg 2', 0.7643, 0.9655, 13),
    note('eg 3', 0.3013, 0.7221, 13), note('eg 4', 0.7643, 0.7221, 13),
    note('low-pass filtered (> 30 yrs)', 0.3013, 0.3874, 13),
    note('high-pass filtered (< 5 yrs)', 0.7643, 0.3874, 13),
    note(yTitle, 0.0586, 0.79, 11, -90),
    note(yTitle, 0.077, 0.219, 11, -90),
    note('year', 0.3013, 0.018, 11), note('year', 0.7643, 0.018, 11)
  ]
};

Plotly.newPlot('chart', traces, layout, { displayModeBar: false, staticPlot: true });
</script>
</body>
</html>
